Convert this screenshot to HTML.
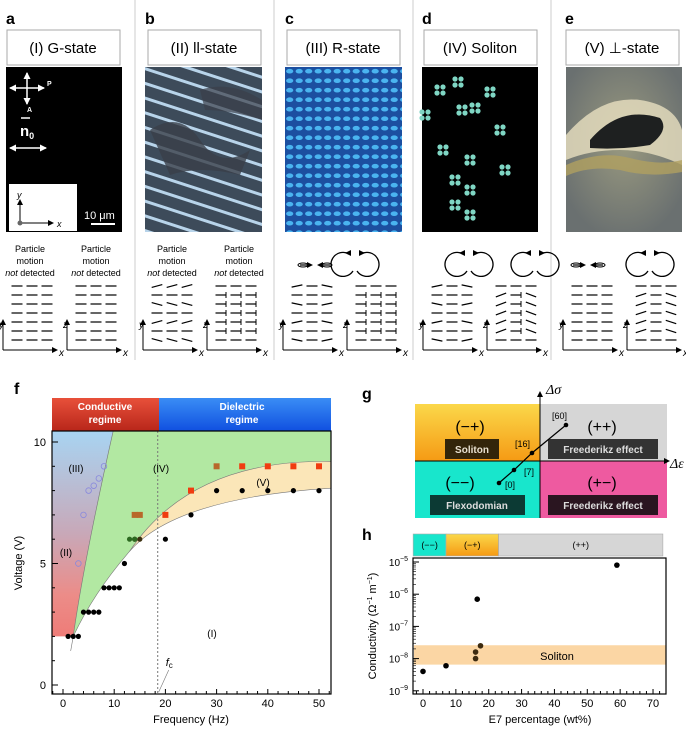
<!DOCTYPE html>
<html><head><meta charset="utf-8">
<style>
html,body{margin:0;padding:0;background:#fff}
svg{display:block;font-family:"Liberation Sans",sans-serif}
</style></head>
<body>
<svg id="fig" width="686" height="729" viewBox="0 0 686 729" xmlns="http://www.w3.org/2000/svg">
<defs>
  <linearGradient id="gCond" x1="0" y1="0" x2="0" y2="1"><stop offset="0" stop-color="#e8503a"/><stop offset="1" stop-color="#b8261a"/></linearGradient>
  <linearGradient id="gDiel" x1="0" y1="0" x2="0" y2="1"><stop offset="0" stop-color="#3a8df5"/><stop offset="1" stop-color="#1050e0"/></linearGradient>
  <linearGradient id="gLeft" x1="0" y1="0" x2="0" y2="1"><stop offset="0" stop-color="#a8d4f2"/><stop offset="0.5" stop-color="#c8a8b8"/><stop offset="0.8" stop-color="#ec8c88"/><stop offset="1" stop-color="#ee7c78"/></linearGradient>
  <linearGradient id="gOrange" x1="0" y1="0" x2="0" y2="1"><stop offset="0" stop-color="#fbd84a"/><stop offset="1" stop-color="#f59a14"/></linearGradient>
  <pattern id="pStripe" width="14" height="14" patternUnits="userSpaceOnUse" patternTransform="rotate(18)"><rect width="14" height="14" fill="#3d4b5a"/><rect y="5" width="14" height="3" fill="#b8d4ea"/></pattern>
  <pattern id="pGrid" width="9.5" height="9.5" patternUnits="userSpaceOnUse"><rect width="9.5" height="9.5" fill="#1c4fa0"/><ellipse cx="4.7" cy="4.7" rx="3.6" ry="2.3" fill="#4ab4f0"/></pattern>
  <radialGradient id="gE" cx="0.5" cy="0.45" r="0.6"><stop offset="0" stop-color="#9a9a80"/><stop offset="1" stop-color="#6a7070"/></radialGradient>
  <marker id="arr" markerUnits="userSpaceOnUse" markerWidth="6" markerHeight="6" refX="5" refY="3" orient="auto"><path d="M0,0 L6,3 L0,6z" fill="#000"/></marker>
  <marker id="arrw" markerUnits="userSpaceOnUse" markerWidth="7" markerHeight="7" refX="6" refY="3.5" orient="auto-start-reverse"><path d="M0,0 L7,3.5 L0,7z" fill="#fff"/></marker>
</defs>

<g stroke="#ccc" stroke-width="1">
  <line x1="135" y1="0" x2="135" y2="360"/><line x1="274" y1="0" x2="274" y2="360"/>
  <line x1="413" y1="0" x2="413" y2="360"/><line x1="551" y1="0" x2="551" y2="360"/>
</g>

<g id="tops" font-size="15"></g>

<g>
  <rect x="6" y="67" width="116" height="165" fill="#000"/>
  <g stroke="#fff" stroke-width="1.5" fill="none">
    <line x1="27" y1="73" x2="27" y2="104" marker-end="url(#arrw)" marker-start="url(#arrw)"/>
    <line x1="10" y1="88" x2="44" y2="88" marker-end="url(#arrw)" marker-start="url(#arrw)"/>
    <line x1="10" y1="148" x2="46" y2="148" marker-end="url(#arrw)" marker-start="url(#arrw)"/>
    <line x1="91" y1="224" x2="115" y2="224" stroke-width="2"/>
  </g>
  <text x="47" y="86" fill="#fff" font-size="7" font-weight="bold">P</text>
  <text x="27" y="112" fill="#fff" font-size="7" font-weight="bold">A</text>
  <text x="20" y="136" fill="#fff" font-size="15" font-weight="bold">n<tspan font-size="9" dy="3">0</tspan></text>
  <line x1="21" y1="118" x2="30" y2="118" stroke="#fff" stroke-width="1.5"/>
  <text x="84" y="219" fill="#fff" font-size="11">10 μm</text>
  <rect x="9" y="184" width="68" height="47" fill="#fff"/>
  <line x1="20" y1="223" x2="20" y2="200" stroke="#000" marker-end="url(#arr)"/>
  <line x1="20" y1="223" x2="53" y2="223" stroke="#000" marker-end="url(#arr)"/>
  <circle cx="20" cy="223" r="2.5" fill="#666"/>
  <text x="17" y="198" font-size="9" font-style="italic">y</text><text x="57" y="227" font-size="9" font-style="italic">x</text>
</g>
<g>
  <rect x="145" y="67" width="117" height="165" fill="url(#pStripe)"/>
  <path d="M150,130 Q180,110 200,140 T250,150 L240,175 Q200,165 170,175Z" fill="#3a3f48" opacity="0.8"/>
  <path d="M200,90 Q230,80 262,100 L262,120 Q230,110 205,110Z" fill="#3a3f48" opacity="0.7"/>
</g>
<g>
  <rect x="285" y="67" width="117" height="165" fill="url(#pGrid)"/>
</g>
<g id="imgd">
  <rect x="422" y="67" width="116" height="165" fill="#000"/>
</g>
<g>
  <rect x="566" y="67" width="116" height="165" fill="url(#gE)"/>
  <path d="M566,135 Q600,95 640,100 Q675,105 682,130 L682,165 Q650,150 620,150 Q590,150 566,160Z" fill="#e8e0c0" opacity="0.8"/>
  <path d="M590,140 Q620,105 660,118 Q670,130 650,145 Q620,150 590,148Z" fill="#1e2020"/>
  <path d="M566,165 Q600,150 630,158 Q660,166 682,160 L682,172 Q650,178 620,170 Q590,165 566,176Z" fill="#b0a060" opacity="0.8"/>
</g>

<g id="chartF"></g>
<g>
  <rect x="415" y="404" width="125" height="57" fill="url(#gOrange)"/>
  <rect x="540" y="404" width="127" height="57" fill="#d6d6d6"/>
  <rect x="415" y="461" width="125" height="57" fill="#18e6cc"/>
  <rect x="540" y="461" width="127" height="57" fill="#ee5aa0"/>
  <line x1="415" y1="461" x2="669" y2="461" stroke="#000" marker-end="url(#arr)"/>
  <line x1="540" y1="518" x2="540" y2="392" stroke="#000" marker-end="url(#arr)"/>
  <text x="670" y="468" font-size="14" font-family="Liberation Serif" font-style="italic">Δε</text>
  <text x="546" y="394" font-size="14" font-family="Liberation Serif" font-style="italic">Δσ</text>
  <text x="470" y="432" text-anchor="middle" font-size="16">(−+)</text>
  <text x="602" y="432" text-anchor="middle" font-size="16">(++)</text>
  <text x="460" y="488" text-anchor="middle" font-size="16">(−−)</text>
  <text x="602" y="488" text-anchor="middle" font-size="16">(+−)</text>
  <rect x="445" y="439" width="54" height="20" fill="#33250a"/>
  <text x="472" y="453" text-anchor="middle" fill="#e8e0d0" font-size="10" font-weight="bold">Soliton</text>
  <rect x="548" y="439" width="110" height="20" fill="#333"/>
  <text x="603" y="453" text-anchor="middle" fill="#ddd" font-size="10" font-weight="bold">Freederikz effect</text>
  <rect x="430" y="495" width="95" height="20" fill="#0c3a34"/>
  <text x="477" y="509" text-anchor="middle" fill="#ddd" font-size="10" font-weight="bold">Flexodomian</text>
  <rect x="548" y="495" width="110" height="20" fill="#2a1520"/>
  <text x="603" y="509" text-anchor="middle" fill="#ddd" font-size="10" font-weight="bold">Freederikz effect</text>
  <polyline points="499,483 514,470 532,453 566,425" fill="none" stroke="#000" stroke-width="1.2"/>
  <circle cx="499" cy="483" r="2.3"/><circle cx="514" cy="470" r="2.3"/><circle cx="532" cy="453" r="2.3"/><circle cx="566" cy="425" r="2.3"/>
  <text x="552" y="419" font-size="9">[60]</text><text x="515" y="447" font-size="9">[16]</text>
  <text x="524" y="475" font-size="9">[7]</text><text x="505" y="488" font-size="9">[0]</text>
</g>
<g id="chartH"></g>

<g font-weight="bold" font-size="16">
  <text x="6" y="24">a</text><text x="145" y="24">b</text><text x="285" y="24">c</text><text x="422" y="24">d</text><text x="565" y="24">e</text>
  <text x="14" y="394">f</text><text x="362" y="399">g</text><text x="362" y="540">h</text>
</g>
</svg>
<script>
const NS='http://www.w3.org/2000/svg';
function mk(parent,tag,attrs,txt){const e=document.createElementNS(NS,tag);for(const k in attrs)e.setAttribute(k,attrs[k]);if(txt!==undefined)e.textContent=txt;parent.appendChild(e);return e;}
const tops=document.getElementById('tops');
const titles=['(I) G-state','(II) ll-state','(III) R-state','(IV) Soliton','(V) ⊥-state'];
const boxX=[7,148,287,424,566];
titles.forEach((t,i)=>{
  const r=mk(tops,'rect',{x:boxX[i],y:30,width:113,height:35,fill:'#fff',stroke:'#aaa'});
  
  
  const tx=mk(tops,'text',{x:boxX[i]+56,y:53,'text-anchor':'middle'},t);
  
  
});
function pm(cx){['Particle','motion'].forEach((w,k)=>mk(tops,'text',{x:cx,y:252+k*12,'text-anchor':'middle','font-size':'9'},w));
  const t=mk(tops,'text',{x:cx,y:276,'text-anchor':'middle','font-size':'9'});mk(t,'tspan',{'font-style':'italic'},'not');mk(t,'tspan',{},' detected');}
pm(30);pm(96);pm(172);pm(239);
function axes(ox,lab){mk(tops,'line',{x1:ox,y1:350,x2:ox,y2:320,stroke:'#000','marker-end':'url(#arr)'});
  mk(tops,'line',{x1:ox,y1:350,x2:ox+54,y2:350,stroke:'#000','marker-end':'url(#arr)'});
  mk(tops,'text',{x:ox-4,y:328,'font-size':'10','font-style':'italic'},lab);
  mk(tops,'text',{x:ox+56,y:356,'font-size':'10','font-style':'italic'},'x');}
function grid(x0,ang,tee){for(let r=0;r<7;r++)for(let c=0;c<3;c++){const cx=x0+c*15,cy=286+r*9;const a=(ang?ang(r,c):0)*Math.PI/180;
  const dx=5.5*Math.cos(a),dy=5.5*Math.sin(a);mk(tops,'line',{x1:cx-dx,y1:cy-dy,x2:cx+dx,y2:cy+dy,stroke:'#000','stroke-width':'1.2'});
  if(tee&&tee(r,c))mk(tops,'line',{x1:cx+5,y1:cy-3,x2:cx+5,y2:cy+3,stroke:'#000','stroke-width':'1'});}}
const diags=[[3,17,'y',null,null],[67,81,'z',null,null],[143,157,'y',(r,c)=>r%2?0:(r%4==0?-15:15),null],[207,221,'z',null,(r,c)=>r>0&&r<6],
 [283,297,'y',(r,c)=>r%2?0:(c==1?0:(c==0?(r%4==0?-12:12):(r%4==0?12:-12))),null],[347,361,'z',null,(r,c)=>r>0&&r<6],
 [423,437,'y',(r,c)=>r%2?0:(c==1?0:(c==0?(r%4==0?-12:12):(r%4==0?12:-12))),null],[487,501,'z',(r,c)=>(r>0&&r<6&&c!=1)?(c==0?-20:20):0,(r,c)=>r>0&&r<6&&c==1],
 [563,577,'y',null,null],[627,641,'z',(r,c)=>(r>0&&r<6)?(c==0?-18:c==2?18:0):0,null]];
diags.forEach(d=>{axes(d[0],d[2]);grid(d[1],d[3],d[4]);});
function loop(cx,cy,dir){mk(tops,'path',{d:`M${cx+dir*6},${cy-11} A12,12 0 1 ${dir>0?0:1} ${cx+dir*10},${cy+6}`,fill:'none',stroke:'#000','stroke-width':'1.3'});
  mk(tops,'path',{d:`M${cx+dir*2},${cy-12} l${dir*6},-3 l0,6z`,fill:'#000'});}
function pair(cx){loop(cx-12,265,1);loop(cx+12,265,-1);}
[355,469,535,650].forEach(pair);
function flat(cx){mk(tops,'path',{d:`M${cx-15},265 h10 M${cx+5},265 h10`,stroke:'#000','stroke-width':'1.3'});
  mk(tops,'ellipse',{cx:cx-12,cy:265,rx:5,ry:2,fill:'none',stroke:'#000'});mk(tops,'ellipse',{cx:cx+12,cy:265,rx:5,ry:2,fill:'none',stroke:'#000'});
  mk(tops,'path',{d:`M${cx-2},265 l-6,-3 v6z M${cx+2},265 l6,-3 v6z`,fill:'#000'});}
flat(315);flat(588);
const imgd=document.getElementById('imgd');
[[440,90],[458,82],[490,92],[462,110],[475,108],[443,150],[455,180],[470,160],[470,190],[470,215],[455,205],[425,115],[505,170],[500,130]].forEach(p=>{
  [[-3,-3],[3,-3],[-3,3],[3,3]].forEach(o=>mk(imgd,'circle',{cx:p[0]+o[0],cy:p[1]+o[1],r:2.6,fill:'#7fd6c4'}));});

// ---------- chart f ----------
const fBlackX=[1,2,3,4,5,6,7,8,9,10,11,12,20,25,30,35,40,45,50];
const fBlackY=[2,2,2,3,3,3,3,4,4,4,4,5,6,7,8,8,8,8,8];
const fOliveX=[14,15];const fOliveY=[6,6];
const fGreenX=[13,14];const fGreenY=[6,6];
const fOpenX=[3,4,5,6,7,8];const fOpenY=[5,7,8,8.2,8.5,9];
const fBrownSqX=[14,15,30];const fBrownSqY=[7,7,9];
const fRedSqX=[20,25,35,40,45,50];const fRedSqY=[7,8,9,9,9,9];
const fXTicks=[0,10,20,30,40,50];const fYTicks=[0,5,10];
const fc=18.5;
const fx=v=>63+v*5.12, fy=v=>685-v*24.3;
const F=document.getElementById('chartF');
mk(F,'rect',{x:52,y:398,width:107,height:33,fill:'url(#gCond)'});
mk(F,'rect',{x:159,y:398,width:172,height:33,fill:'url(#gDiel)'});
[['Conductive',410],['regime',423]].forEach(a=>mk(F,'text',{x:105,y:a[1],'text-anchor':'middle',fill:'#fff','font-size':'10','font-weight':'bold'},a[0]));
[['Dielectric',410],['regime',423]].forEach(a=>mk(F,'text',{x:242,y:a[1],'text-anchor':'middle',fill:'#fff','font-size':'10','font-weight':'bold'},a[0]));
mk(F,'path',{d:`M52,431 L${fx(9.8)},431 Q${fx(4)},${fy(5)} ${fx(2)},${fy(2)} L52,${fy(2)}Z`,fill:'url(#gLeft)'});
mk(F,'path',{d:`M${fx(9.8)},431 L331,431 L331,${fy(9.2)} Q${fx(25)},${fy(9.3)} ${fx(13)},${fy(5.5)} Q${fx(6)},${fy(3.8)} ${fx(2)},${fy(2)} Q${fx(4)},${fy(5)} ${fx(9.8)},431Z`,fill:'#b2e8a2'});
mk(F,'path',{d:`M331,${fy(9.2)} Q${fx(25)},${fy(9.3)} ${fx(13)},${fy(5.5)} Q${fx(22)},${fy(7.7)} 331,${fy(8.1)}Z`,fill:'#fbe6b8'});
['M'+fx(2)+','+fy(2)+' Q'+fx(4)+','+fy(5)+' '+fx(9.8)+',431','M'+fx(1.5)+','+fy(1.4)+' L'+fx(2)+','+fy(2)+' Q'+fx(6)+','+fy(3.8)+' '+fx(13)+','+fy(5.5)+' Q'+fx(22)+','+fy(7.7)+' 331,'+fy(8.1),'M'+fx(13)+','+fy(5.5)+' Q'+fx(25)+','+fy(9.3)+' 331,'+fy(9.2)].forEach(d=>mk(F,'path',{d,fill:'none',stroke:'#777','stroke-width':'0.6'}));
mk(F,'line',{x1:fx(fc),y1:431,x2:fx(fc),y2:694,stroke:'#777','stroke-dasharray':'2,2'});
mk(F,'line',{x1:fx(fc)+1,y1:692,x2:fx(fc)+11,y2:670,stroke:'#777','stroke-width':'0.6'});
const fcl=mk(F,'text',{x:fx(fc)+8,y:666,'font-size':'11','font-style':'italic'},'f');
mk(fcl,'tspan',{'font-size':'8','font-style':'normal',dy:'2'},'c');
mk(F,'rect',{x:52,y:431,width:279,height:263,fill:'none',stroke:'#000','stroke-width':'1.2'});
for(let v=-2;v<=52;v+=2){if(fx(v)>52&&fx(v)<331)mk(F,'line',{x1:fx(v),y1:694,x2:fx(v),y2:v%10==0?689:691,stroke:'#000'});}
for(let v=0;v<=10;v++)mk(F,'line',{x1:52,y1:fy(v),x2:v%5==0?58:55,y2:fy(v),stroke:'#000'});
fXTicks.forEach(v=>{const t=mk(F,'text',{x:fx(v),y:707,'text-anchor':'middle','font-size':'11'},v);});
fYTicks.forEach(v=>{const t=mk(F,'text',{x:46,y:fy(v)+4,'text-anchor':'end','font-size':'11'},v);});
const fxt=mk(F,'text',{x:191,y:723,'text-anchor':'middle','font-size':'11'},'Frequency (Hz)');
const fyt=mk(F,'text',{x:22,y:563,'text-anchor':'middle','font-size':'11',transform:'rotate(-90 22 563)'},'Voltage (V)');
[['(III)',76,472],['(II)',66,556],['(IV)',161,472],['(V)',263,486],['(I)',212,637]].forEach(a=>mk(F,'text',{x:a[1],y:a[2],'text-anchor':'middle','font-size':'10'},a[0]));
function dots(xs,ys,fill,name){xs.forEach((x,i)=>{const c=mk(F,'circle',{cx:fx(x),cy:fy(ys[i]),r:2.6,fill});});}
dots(fBlackX,fBlackY,'#000','black-point');dots(fOliveX,fOliveY,'#3c3010','olive-point');dots(fGreenX,fGreenY,'#2c6a20','green-point');
fOpenX.forEach((x,i)=>{const c=mk(F,'circle',{cx:fx(x),cy:fy(fOpenY[i]),r:2.8,fill:'none',stroke:'#8888dd','stroke-width':'0.8'});});
function sq(xs,ys,fill,name){xs.forEach((x,i)=>{const s=mk(F,'rect',{x:fx(x)-3,y:fy(ys[i])-3,width:6,height:6,fill});});}
sq(fBrownSqX,fBrownSqY,'#b8682a','brown-square');sq(fRedSqX,fRedSqY,'#f03c10','red-square');

// ---------- chart h ----------
const hX=[0,7,16,16,17.5,16.5,59];
const hY=[4e-9,6e-9,1e-8,1.6e-8,2.5e-8,7e-7,8e-6];
const hBandLo=6.5e-9, hBandHi=2.6e-8;
const hXTicks=[0,10,20,30,40,50,60,70];
const hYExp=[-5,-6,-7,-8,-9];
const hSegStart=[-3,7,23];const hSegEnd=[7,23,73];const hSegLabel=['(−−)','(−+)','(++)'];
const hx=v=>423+v*3.286, hy=v=>562-(Math.log10(v)+5)*32.2;
const H=document.getElementById('chartH');
const segFill=['#18e6cc','url(#gOrange)','#d6d6d6'];
hSegStart.forEach((s,i)=>{const x0=Math.max(413,hx(s)),x1=Math.min(667,hx(hSegEnd[i]));
  const r=mk(H,'rect',{x:x0,y:534,width:x1-x0,height:22,fill:segFill[i],stroke:'#aaa','stroke-width':'0.6'});
  mk(H,'text',{x:(x0+x1)/2,y:548,'text-anchor':'middle','font-size':'9'},hSegLabel[i]);});
const band=mk(H,'rect',{x:414,y:hy(hBandHi),width:252,height:hy(hBandLo)-hy(hBandHi),fill:'#fbd6a4'});
mk(H,'text',{x:557,y:hy(1.3e-8)+5,'text-anchor':'middle','font-size':'11'},'Soliton');
mk(H,'rect',{x:413,y:558,width:253,height:136,fill:'none',stroke:'#000','stroke-width':'1.2'});
for(let v=-2;v<=72;v+=2){const x=hx(v);if(x>413&&x<666)mk(H,'line',{x1:x,y1:694,x2:x,y2:v%10==0?689:691,stroke:'#000'});}
hYExp.forEach(e=>{mk(H,'line',{x1:413,y1:hy(Math.pow(10,e)),x2:419,y2:hy(Math.pow(10,e)),stroke:'#000'});
  for(let k=2;k<10;k++){const y=hy(k*Math.pow(10,e));if(y>558&&y<694)mk(H,'line',{x1:413,y1:y,x2:416,y2:y,stroke:'#000','stroke-width':'0.6'});}
  const t=mk(H,'text',{x:408,y:hy(Math.pow(10,e))+4,'text-anchor':'end','font-size':'10'},'10');mk(t,'tspan',{'font-size':'7',dy:'-5'},'−'+(-e));
  });
hXTicks.forEach(v=>{const t=mk(H,'text',{x:hx(v),y:707,'text-anchor':'middle','font-size':'11'},v);});
const hxt=mk(H,'text',{x:540,y:723,'text-anchor':'middle','font-size':'11'},'E7 percentage (wt%)');
const hyt=mk(H,'text',{x:376,y:626,'text-anchor':'middle','font-size':'11',transform:'rotate(-90 376 626)'},'Conductivity (Ω');mk(hyt,'tspan',{'font-size':'7',dy:'-4'},'−1');mk(hyt,'tspan',{dy:'4'},' m');mk(hyt,'tspan',{'font-size':'7',dy:'-4'},'−1');mk(hyt,'tspan',{dy:'4'},')');

hX.forEach((x,i)=>{const c=mk(H,'circle',{cx:hx(x),cy:hy(hY[i]),r:2.8,fill:(hY[i]>=hBandLo&&hY[i]<=hBandHi)?'#3c2a10':'#000'});});
</script>
</body></html>
